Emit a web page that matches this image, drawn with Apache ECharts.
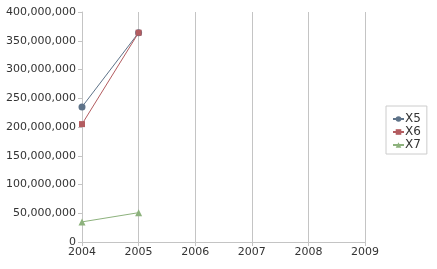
<!DOCTYPE html>
<html><head><meta charset="utf-8">
<script src="https://cdn.jsdelivr.net/npm/echarts@6/dist/echarts.min.js"></script>
<style>html,body{margin:0;padding:0;background:#fff}#c{width:437px;height:269px}</style>
</head><body><div id="c"></div>
<script>
var years = [2004, 2005];
var seriesNames = ['X5', 'X6', 'X7'];
var x5 = [235000000, 364000000];
var x6 = [205000000, 364000000];
var x7 = [35000000, 51000000];
var colors = ['#5e7389', '#b35c60', '#8db27d'];
var symbols = ['circle', 'rect', 'triangle'];
var values = [x5, x6, x7];

function pairs(v){ return years.map(function(y,i){ return [y, v[i]]; }); }
var chart = echarts.init(document.getElementById('c'));
var font = 'DejaVu Sans';
chart.setOption({
  animation: false,
  backgroundColor: '#fff',
  textStyle: {fontFamily: font},
  grid: {left: 82, right: 72, top: 12, bottom: 27},
  xAxis: {
    type: 'value', min: 2004, max: 2009, interval: 1,
    axisLine: {lineStyle: {color: '#c4c4c4'}},
    axisTick: {show: true, length: 4, lineStyle: {color: '#c4c4c4'}},
    splitLine: {show: true, lineStyle: {color: '#c4c4c4'}},
    axisLabel: {color: '#333', fontSize: 11, fontFamily: font, margin: 5, formatter: function(v){return String(v);}}
  },
  yAxis: {
    type: 'value', min: 0, max: 400000000, interval: 50000000,
    axisLine: {show: true, lineStyle: {color: '#c4c4c4'}},
    axisTick: {show: true, length: 4, lineStyle: {color: '#c4c4c4'}},
    splitLine: {show: false},
    axisLabel: {color: '#333', fontSize: 11, fontFamily: font, margin: 6,
      formatter: function(v){ return v.toString().replace(/\B(?=(\d{3})+(?!\d))/g, ','); }}
  },
  legend: {
    orient: 'vertical', left: 386, top: 106,
    borderColor: '#cccccc', borderWidth: 1, padding: [7, 6, 3, 6],
    itemWidth: 11, itemHeight: 7, itemGap: 1,
    textStyle: {fontSize: 12, color: '#333', fontFamily: font, padding: [0,0,0,-4]},
    data: seriesNames
  },
  series: seriesNames.map(function(n, i){
    return {
      name: n, type: 'line', data: pairs(values[i]),
      symbol: symbols[i], symbolSize: i === 1 ? 6 : 7, showSymbol: true,
      itemStyle: {color: colors[i]},
      lineStyle: {color: colors[i], width: 1}
    };
  })
});
</script></body></html>
